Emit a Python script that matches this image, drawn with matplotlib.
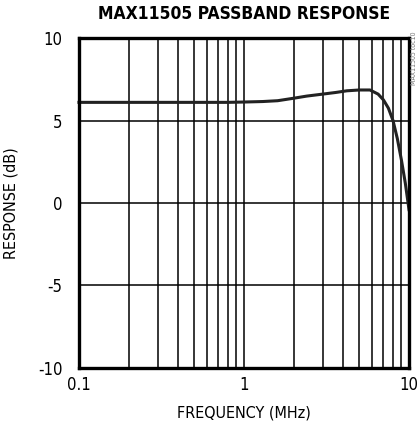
import matplotlib
matplotlib.use("Agg")
import matplotlib.pyplot as plt
from matplotlib import font_manager
from matplotlib.ticker import FixedLocator, NullFormatter

freq_mhz = [0.1, 0.2, 0.5, 0.8, 1.0, 1.3, 1.6, 2.0, 2.4, 3.0, 3.6, 4.2, 5.0, 5.8,
            6.5, 7.0, 7.5, 8.0, 8.5, 9.0, 9.5, 10.0]
response_db = [6.1, 6.1, 6.1, 6.1, 6.12, 6.15, 6.2, 6.35, 6.48, 6.6, 6.7, 6.8, 6.85, 6.85,
               6.6, 6.25, 5.75, 5.0, 3.9, 2.6, 1.2, -0.4]

x_ticks = [0.1, 1, 10]
x_labels = ["0.1", "1", "10"]
y_ticks = [-10, -5, 0, 5, 10]
y_labels = ["-10", "-5", "0", "5", "10"]

names = {f.name for f in font_manager.fontManager.ttflist}
narrow = "Liberation Sans Narrow" if "Liberation Sans Narrow" in names else "DejaVu Sans"
stretch = "normal" if narrow == "Liberation Sans Narrow" else "condensed"

fig = plt.figure(figsize=(4.17, 4.30), dpi=100)
ax = fig.add_axes([0.1894, 0.1442, 0.7914, 0.7674])

ax.set_xscale("log")
ax.set_xlim(0.1, 10)
ax.set_ylim(-10, 10)

# grid: every decade subdivision vertically, 5 dB horizontally
minor = [m * d for d in (0.1, 1) for m in range(2, 10)]
for xv in minor + [1]:
    ax.axvline(xv, color="black", lw=1.1, zorder=1)
for yv in (-5, 0, 5):
    ax.axhline(yv, color="black", lw=1.1, zorder=1)

ax.plot(freq_mhz, response_db, color="#222222", lw=2.2, zorder=3, clip_on=False)

ax.xaxis.set_major_locator(FixedLocator(x_ticks))
ax.xaxis.set_minor_locator(FixedLocator(minor))
ax.xaxis.set_minor_formatter(NullFormatter())
ax.set_xticks(x_ticks)
ax.set_xticklabels(x_labels)
ax.set_yticks(y_ticks)
ax.set_yticklabels(y_labels)
ax.tick_params(which="both", length=0, labelsize=12)
ax.tick_params(axis="x", pad=6)
ax.tick_params(axis="y", pad=12)
for lbl in ax.get_xticklabels() + ax.get_yticklabels():
    lbl.set_family(narrow)
    lbl.set_stretch(stretch)

for s in ax.spines.values():
    s.set_linewidth(2.4)
    s.set_zorder(4)

ax.set_xlabel("FREQUENCY (MHz)", fontsize=11.5, family=narrow, stretch=stretch, labelpad=8)
ax.set_ylabel("RESPONSE (dB)", fontsize=11.5, family=narrow, stretch=stretch, labelpad=14)
fig.text(0.585, 0.967, "MAX11505 PASSBAND RESPONSE", ha="center", va="center",
         fontsize=12.5, weight="bold", family=narrow, stretch=stretch)
fig.text(0.993, 0.865, "MAX11505 toc10", rotation=90, ha="center", va="center",
         fontsize=5, color="#777777", family=narrow, stretch=stretch)

fig.savefig("out.png", dpi=100)
